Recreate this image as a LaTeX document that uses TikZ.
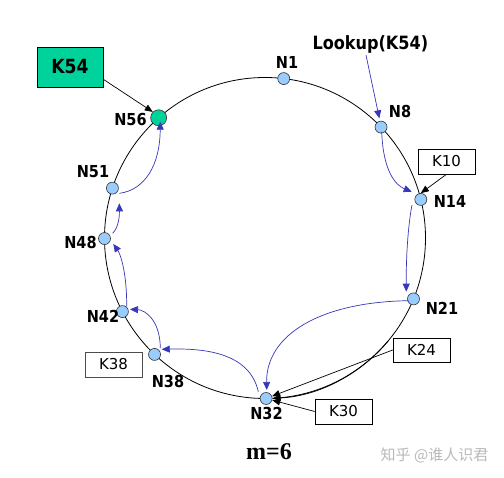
\documentclass[tikz,border=0pt]{standalone}
\usepackage{fontspec}
\setmainfont{DejaVu Sans}
\newfontfamily\labfont{DejaVu Sans}[FakeStretch=0.88]
\newfontfamily\mfont{Liberation Serif}
\newfontfamily\cjkfont{Noto Sans CJK SC}
\usetikzlibrary{arrows.meta,calc}
\definecolor{tealkey}{RGB}{0,210,155}
\definecolor{nodeblue}{RGB}{153,204,255}
\definecolor{hopblue}{RGB}{55,55,185}
\definecolor{wmgray}{RGB}{185,185,185}
\begin{document}
\begin{tikzpicture}[x=1pt,y=1pt,
  ringline/.style={line width=0.8pt},
  dot/.style={circle,draw=black!80,line width=0.6pt,fill=nodeblue,minimum size=12pt,inner sep=0pt},
  gdot/.style={dot,fill=tealkey,minimum size=16pt},
  lbl/.style={font=\labfont\bfseries\fontsize{16.5}{16.5}\selectfont,inner sep=0pt},
  keybox/.style={draw=black,line width=0.6pt,minimum width=57pt,minimum height=25pt,inner sep=0pt,font=\fontsize{15}{15}\selectfont},
  hop/.style={hopblue,line width=0.7pt,-{Triangle[length=8pt,width=7pt]}},
  keyarrow/.style={black,line width=0.7pt,-{Triangle[length=8pt,width=6.5pt]}}]
\useasboundingbox (0,0) rectangle (504,478);
\fill[white] (0,0) rectangle (504,478);
% ring
\coordinate (C) at (265,240);
\draw[ringline] (C) circle[radius=160.5];
\draw[ringline,-{Triangle[length=8pt,width=6.5pt]}] ($(C)+(-40:160.5)$) arc[start angle=-40, end angle=-87.3, radius=160.5];
% nodes on ring
\node[dot] (n1) at ($(C)+(83.3:160.5)$) {};
\node[dot] (n8) at ($(C)+(43.7:160.5)$) {};
\node[dot] (n14) at ($(C)+(13.9:160.5)$) {};
\node[dot] (n21) at ($(C)+(-22.3:160.5)$) {};
\node[dot] (n32) at ($(C)+(-89.6:160.5)$) {};
\node[dot] (n38) at ($(C)+(-133.5:160.5)$) {};
\node[dot] (n42) at ($(C)+(-152.7:160.5)$) {};
\node[dot] (n48) at ($(C)+(180.2:160.5)$) {};
\node[dot] (n51) at ($(C)+(161.9:160.5)$) {};
\node[gdot] (n56) at ($(C)+(131.5:160.5)$) {};
% node labels
\node[lbl] (l1) at (287,416) {N1};
\node[lbl] (l8) at (400,366) {N8};
\node[lbl] (l14) at (450,277) {N14};
\node[lbl] (l21) at (442,169.5) {N21};
\node[lbl] (l32) at (266.5,64) {N32};
\node[lbl] (l38) at (168,96) {N38};
\node[lbl] (l42) at (103,162) {N42};
\node[lbl] (l48) at (80.5,235.7) {N48};
\node[lbl] (l51) at (93,306.5) {N51};
\node[lbl] (l56) at (130.5,358) {N56};
% lookup text
\node[inner sep=0pt,anchor=base west,font=\labfont\bfseries\fontsize{18.3}{18.3}\selectfont] (lookup) at (312.3,428) {Lookup(K54)};
\coordinate (lkfoot) at (366,423);
% key boxes
\node[draw=black,line width=0.6pt,fill=tealkey,minimum width=66pt,minimum height=40pt,inner sep=0pt,font=\labfont\bfseries\fontsize{19.5}{19.5}\selectfont] (k54) at (70,411) {K54};
\node[keybox] (k10) at (446.5,316.5) {K10};
\node[keybox,minimum height=24pt] (k24) at (421.5,128) {K24};
\node[keybox] (k30) at (343.5,66.5) {K30};
\node[keybox,draw=black!70] (k38) at (113.5,113.5) {K38};
% texts
\node[inner sep=0pt,anchor=base,font=\mfont\bfseries\fontsize{24}{24}\selectfont] (mlab) at (269,18.5) {m=6};
\node[inner sep=0pt,text=wmgray,font=\cjkfont\fontsize{15}{15}\selectfont] (wm) at (434.5,23) {知乎 @谁人识君};
% lookup hops
\draw[hop] (lkfoot) -- ($(n8)+(-1.7,8.8)$);
\draw[hop] ($(n8)+(0.7,-4.6)$) .. controls (383,308) and (395,293) .. ($(n14)+(-9.1,7.7)$);
\draw[hop] ($(n14)+(-8.8,-5.6)$) .. controls (409,258) and (406,228) .. ($(n21)+(-7.2,7.2)$);
\draw[hop] ($(n21)+(-4.8,-1.8)$) .. controls (320,176) and (266,143) .. ($(n32)+(0.6,8.5)$);
\draw[hop] ($(n32)+(-7.8,6.8)$) .. controls (250,123) and (210,130) .. ($(n38)+(7.2,5.1)$);
\draw[hop] ($(n38)+(5.8,6.4)$) .. controls (160,158) and (145,168) .. ($(n42)+(7.6,2.3)$);
\draw[hop] ($(n42)+(4.3,4.9)$) .. controls (127,203) and (121,223) .. ($(n48)+(8.8,-5.4)$);
\draw[hop] ($(n48)+(8.2,5.3)$) .. controls (118,250) and (119.5,260) .. ($(n51)+(6.9,-15.2)$);
\draw[hop] ($(n51)+(6.9,-5.2)$) .. controls (145,288) and (160,313) .. ($(n56)+(1.6,-3.9)$);
% key arrows
\draw[keyarrow] ($(k54.south east)+(0,8)$) -- (n56.135);
\draw[keyarrow] (k10.south) -- (n14.north);
\draw[keyarrow] (k24.west) -- (n32);
\draw[keyarrow] (k30.west) -- (n32);
\end{tikzpicture}
\end{document}
